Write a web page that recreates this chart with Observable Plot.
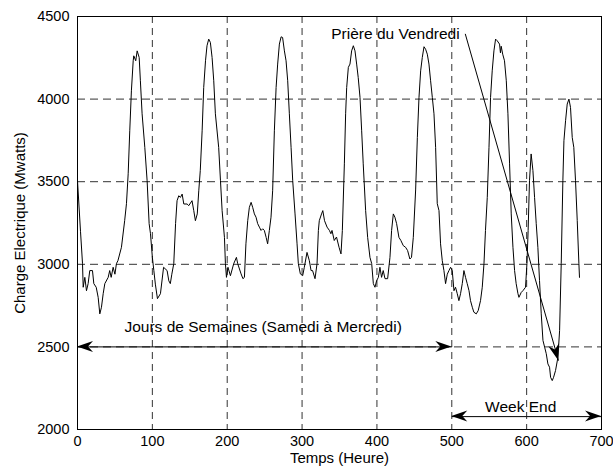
<!DOCTYPE html>
<html>
<head>
<meta charset="utf-8">
<script src="https://cdn.jsdelivr.net/npm/d3@7"></script>
<script src="https://cdn.jsdelivr.net/npm/@observablehq/plot@0.6"></script>
<style>
  html, body { margin: 0; padding: 0; background: #fff; }
  svg { display: block; }
</style>
</head>
<body>
<div id="chart"></div>
<script>
// Hourly electric load
const hours = [0,4,6.7,7.6,9.8,12,14.2,16.4,20,21.8,25,27.6,29.8,32,34.3,36.5,41,43,45,47.6,50,52,54,58.7,63,65.4,67.7,69.8,72,74.4,75.2,77.8,79.7,82.4,84,86.3,89.9,93,95.7,97.5,100,102,104,106.8,110.8,115,119.7,122,124,126,128.6,131,133,135.3,137.5,139.8,142,146.4,148.6,153,155.3,157.5,160,162,164,166.5,168.6,171,173,175.3,177.5,179.8,182,184.2,188.6,191,193.2,196.3,197.6,199,201,204.3,208.7,212.3,214,218.5,221,223,225,227.4,229.6,231.9,234,236.3,238.5,240.7,243,245.2,247.4,249.6,252,254,256.3,258.5,260.7,263,265.3,267.4,269.7,272,274,276.4,278.6,280.8,283,285.3,287.5,290.6,293.3,295,297.7,300.8,303,306.6,309.7,312,314,317.3,320,321.8,323,326,327.7,330,333.4,336.5,338.5,340,343,346,349.4,352,353.8,356.5,358.2,359.6,361.8,364,366.2,368.5,370.7,372.9,375,377.4,379.6,381.7,384.9,387.6,390.7,393,395.2,397.4,399.6,401.9,404,406.2,408.4,410.8,414.3,417.4,419.6,421.9,424,426.3,429.4,432,435.2,438.3,441,444,446.2,448.6,451.7,454,456.2,458.4,460.6,462.9,465,467.3,469.5,471.7,474,476.2,478.4,480.6,482.9,485,487.3,489.5,491.7,494,496.2,498.4,500.6,502.9,505,507.3,509.5,511.7,514,516.2,518.4,520.6,523,525,527.4,529.5,532.7,535.3,538.4,540.7,543,545,547.4,549.7,551.8,554,556.3,558.5,560.7,563.8,565,566,568,570.4,572.8,575,577.2,579.4,581.7,583.9,586,588.4,589.7,592.8,595,598.5,600.4,602,603.8,606,608.4,610.6,612.8,615,617.2,619.5,621.8,624,626.2,628.4,630.6,632,634.2,636,638.6,641.8,644,646.2,648.4,649.8,652,654.2,656.5,658.6,660.9,663,665.3,667.6,669.8,670.6];
const load = [3506,3200,3004,2861,2921,2840,2883,2962,2962,2883,2861,2800,2700,2740,2822,2883,2921,2962,2921,2982,2940,3004,3022,3103,3264,3367,3548,3808,4050,4232,4262,4232,4292,4252,4111,3911,3708,3506,3246,3185,3042,2962,2880,2792,2822,2982,2962,2900,2883,2940,3004,3246,3385,3415,3405,3425,3365,3365,3355,3385,3325,3264,3305,3445,3567,3808,4070,4232,4323,4363,4343,4252,4111,3911,3708,3506,3325,3163,3004,2921,2982,2931,3004,3042,3004,2942,2913,2921,3124,3264,3345,3375,3345,3305,3285,3246,3225,3205,3215,3205,3163,3124,3205,3285,3445,3808,4070,4212,4333,4377,4373,4292,4232,4111,3911,3708,3506,3305,3124,3004,2942,2931,2982,3072,3022,2962,2962,2913,3004,3205,3264,3305,3325,3264,3225,3205,3185,3205,3144,3165,3103,3063,3205,3608,3911,4070,4192,4212,4292,4323,4292,4212,4131,4010,3808,3608,3325,3163,3042,3004,2883,2861,2901,2921,2982,2921,2962,2913,2913,3042,3205,3305,3285,3246,3163,3144,3113,3103,3083,3032,3042,3163,3450,3768,4010,4171,4252,4317,4302,4272,4212,4111,4010,3911,3708,3367,3325,3124,3022,2962,2883,2940,2962,2982,2962,2840,2861,2822,2780,2822,2883,2962,2921,2883,2840,2780,2740,2710,2700,2720,2780,2861,3004,3205,3405,3708,4010,4171,4292,4363,4353,4333,4280,4320,4272,4232,4111,3911,3608,3305,3103,2962,2883,2822,2800,2830,2840,2861,3004,3205,3506,3668,3567,3405,3246,3103,2901,2700,2539,2499,2459,2397,2377,2316,2296,2316,2357,2437,2598,3004,3506,3748,3869,3970,4000,3950,3768,3708,3506,3264,3004,2921];

const xTicks = [0, 100, 200, 300, 400, 500, 600, 700];
const yTicks = [2000, 2500, 3000, 3500, 4000, 4500];

const xLabel = "Temps (Heure)";
const yLabel = "Charge Electrique (Mwatts)";

// Annotations (data coordinates)
const weekdaysText = "Jours de Semaines (Samedi à Mercredi)";
const weekdaysSpan = [0, 500];
const weekdaysLevel = 2500;
const weekdaysTextPos = {x: 248, y: 2623};

const weekendText = "Week End";
const weekendSpan = [500, 700];
const weekendLevel = 2078;
const weekendTextPos = {x: 592, y: 2139};

const fridayText = "Prière du Vendredi";
const fridayTextPos = {x: 339, y: 4395};
const fridayArrow = {x1: 518, y1: 4395, x2: 642.6, y2: 2417};

const series = hours.map((h, i) => ({h, v: load[i]}));

// arrow segments: [from, to]; heads drawn at the "to" end
const arrowSegs = [
  {x1: (weekdaysSpan[0] + weekdaysSpan[1]) / 2, y1: weekdaysLevel, x2: weekdaysSpan[0], y2: weekdaysLevel},
  {x1: (weekdaysSpan[0] + weekdaysSpan[1]) / 2, y1: weekdaysLevel, x2: weekdaysSpan[1], y2: weekdaysLevel},
  {x1: (weekendSpan[0] + weekendSpan[1]) / 2, y1: weekendLevel, x2: weekendSpan[0], y2: weekendLevel},
  {x1: (weekendSpan[0] + weekendSpan[1]) / 2, y1: weekendLevel, x2: weekendSpan[1], y2: weekendLevel},
  fridayArrow
];

function arrowHeads(segs) {
  return (index, scales) => {
    const g = d3.create("svg:g");
    for (const s of segs) {
      const x1 = scales.x(s.x1), y1 = scales.y(s.y1);
      const x2 = scales.x(s.x2), y2 = scales.y(s.y2);
      const a = Math.atan2(y2 - y1, x2 - x1);
      const c = Math.cos(a), sn = Math.sin(a);
      const L = 16, W = 5.5, B = 11;
      const pts = [[0, 0], [-L, -W], [-B, 0], [-L, W]].map(([u, v]) =>
        [x2 + u * c - v * sn, y2 + u * sn + v * c]);
      g.append("path")
        .attr("d", "M" + pts.map(p => p.join(",")).join("L") + "Z")
        .attr("fill", "black");
    }
    return g.node();
  };
}

const font = "'Liberation Sans', Arial, Helvetica, sans-serif";

const chart = Plot.plot({
  width: 613,
  height: 472,
  marginLeft: 77,
  marginRight: 12,
  marginTop: 16,
  marginBottom: 43,
  style: {fontFamily: font, fontSize: "14.5px", background: "#fff", color: "#000"},
  x: {domain: [0, 700], ticks: xTicks, tickFormat: d => String(d), tickSize: 0, tickPadding: 6, label: null},
  y: {domain: [2000, 4500], ticks: yTicks, tickFormat: d => String(d), tickSize: 0, tickPadding: 8, label: null},
  marks: [
    Plot.ruleX(xTicks.slice(1, -1), {stroke: "#333", strokeDasharray: "7,5", strokeWidth: 1}),
    Plot.ruleY(yTicks.slice(1, -1), {stroke: "#333", strokeDasharray: "8,5", strokeWidth: 1}),
    Plot.line(series, {x: "h", y: "v", stroke: "black", strokeWidth: 1}),
    Plot.link(arrowSegs, {x1: "x1", y1: "y1", x2: "x2", y2: "y2", stroke: "black", strokeWidth: 1}),
    arrowHeads(arrowSegs),
    Plot.text([weekdaysText], {x: weekdaysTextPos.x, y: weekdaysTextPos.y, text: d => d, fontSize: 15.5, fill: "black", textAnchor: "middle"}),
    Plot.text([weekendText], {x: weekendTextPos.x, y: weekendTextPos.y, text: d => d, fontSize: 15.5, fill: "black", textAnchor: "middle"}),
    Plot.text([fridayText], {x: fridayTextPos.x, y: fridayTextPos.y, text: d => d, fontSize: 15.5, fill: "black", textAnchor: "start"}),
    Plot.text([xLabel], {frameAnchor: "bottom", dy: 33, text: d => d, fontSize: 15, fill: "black", textAnchor: "middle"}),
    Plot.text([yLabel], {frameAnchor: "left", dx: -57, rotate: -90, text: d => d, fontSize: 15, fill: "black", textAnchor: "middle"}),
    Plot.frame({stroke: "black", strokeWidth: 1})
  ]
});

document.getElementById("chart").appendChild(chart);
</script>
</body>
</html>
